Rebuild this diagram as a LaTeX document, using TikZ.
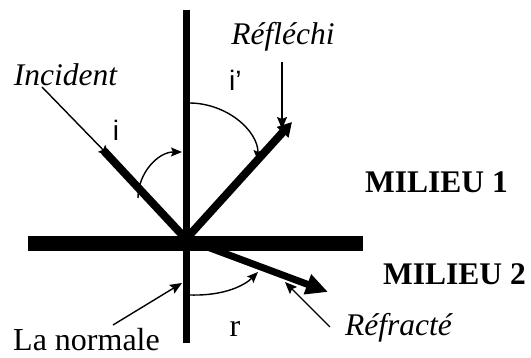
\documentclass[tikz,border=0pt]{standalone}
\usepackage{fontspec}
\setmainfont{Liberation Serif}
\newfontfamily\arialf{Liberation Sans}
\usetikzlibrary{arrows.meta}
\begin{document}
\begin{tikzpicture}[x=1pt,y=1pt,
  thinline/.style={line width=1.4pt},
  thinarrow/.style={line width=1.4pt,-{Stealth[length=12pt,width=10pt,inset=2pt]}},
  arcarrow/.style={line width=1.4pt,-{Stealth[length=11pt,width=9pt,inset=2pt]}},
  lbl/.style={inner sep=0pt,font=\fontsize{32}{32}\selectfont},
  itlbl/.style={inner sep=0pt,font=\itshape\fontsize{31.5}{31.5}\selectfont},
  bflbl/.style={inner sep=0pt,font=\bfseries\fontsize{31.5}{31.5}\selectfont},
  sym/.style={inner sep=0pt,font=\arialf\fontsize{28}{28}\selectfont}]
\useasboundingbox (0,0) rectangle (531,358);
% main axes
\coordinate (nTop) at (186,348);
\coordinate (nBot) at (186,15);
\coordinate (hL) at (28,114);
\coordinate (hR) at (363,114);
\coordinate (O) at (186,119);
\draw[line width=7pt] (nTop) -- (nBot);
\draw[line width=15pt] (hL) -- (hR);
% rays
\coordinate (incS) at (104,207);
\coordinate (refE) at (292,236);
\coordinate (fraE) at (328,66);
\draw[line width=8pt] (incS) -- (O);
\draw[line width=8pt,-{Triangle[length=14pt,width=15pt]}] (O) -- (refE);
\draw[line width=7pt,-{Triangle[length=22pt,width=20pt]}] (O) -- (fraE);
% labels
\node[itlbl,anchor=base] (inc) at (65.5,272) {Incident};
\node[itlbl,anchor=base] (refl) at (283,313) {Réfléchi};
\node[itlbl,anchor=base west] (refr) at (345,22) {Réfracté};
\node[lbl,anchor=base west] (norm) at (13,7) {La normale};
\node[bflbl,anchor=base west] (m1) at (365,165) {MILIEU 1};
\node[bflbl,anchor=base west] (m2) at (383,73) {MILIEU 2};
\node[sym,anchor=base] (ai) at (116,217) {i};
\node[sym,anchor=base west] (aip) at (229,267) {i\textquoteright};
\node[lbl,anchor=base] (ar) at (235,21) {r};
% pointer lines
\coordinate (incP) at (42,271);
\coordinate (incT) at (110,201);
\draw[thinarrow] (incP) -- (incT);
\coordinate (reflP) at (282,296);
\coordinate (reflT) at (282,229);
\draw[thinarrow] (reflP) -- (reflT);
\coordinate (refrP) at (330,31);
\coordinate (refrT) at (285,76);
\draw[thinarrow] (refrP) -- (refrT);
\coordinate (normP) at (113,33);
\coordinate (normT) at (182,75);
\draw[thinarrow] (normP) -- (normT);
% angle arcs
\coordinate (iS) at (138,160);
\coordinate (iE) at (182,206);
\draw[arcarrow] (iS) .. controls (138,185) and (158,206) .. (iE);
\coordinate (ipS) at (189,255);
\coordinate (ipE) at (258,197);
\draw[arcarrow] (ipS) .. controls (227,255) and (258,227) .. (ipE);
\coordinate (rS) at (190,63);
\coordinate (rE) at (258,86);
\draw[arcarrow] (rS) .. controls (225,62) and (245,73) .. (rE);
\end{tikzpicture}
\end{document}
